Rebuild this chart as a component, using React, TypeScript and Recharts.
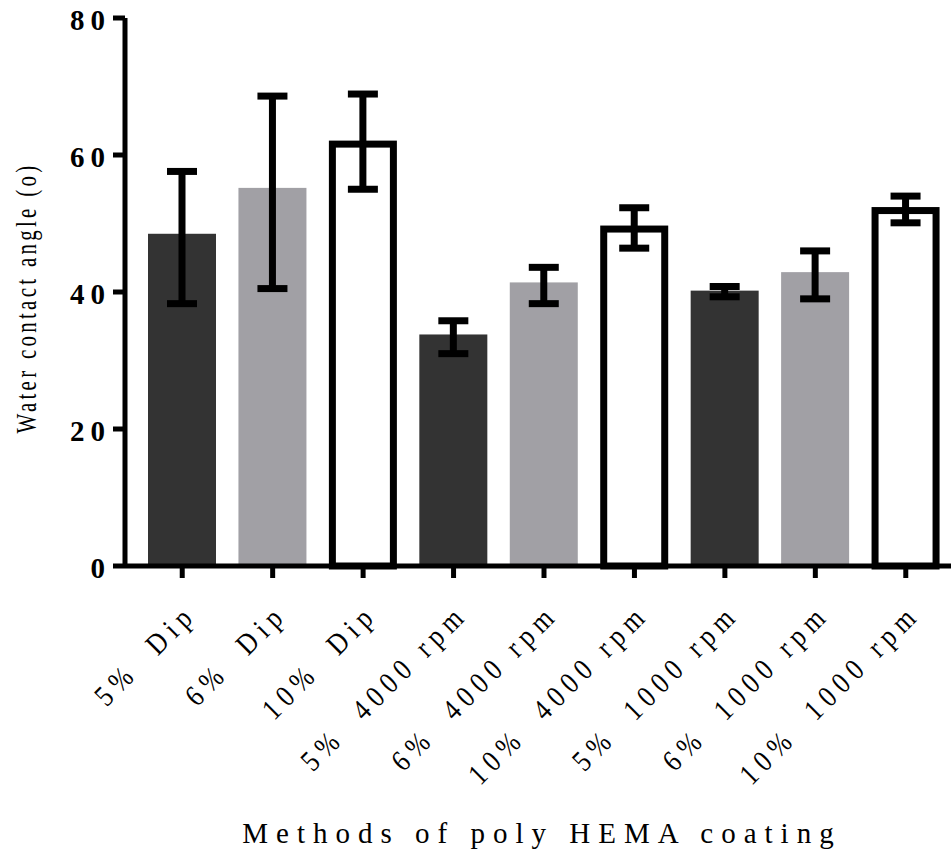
import { BarChart, Bar, XAxis, YAxis, ErrorBar, Label } from 'recharts';

const categories = [
  '5%  Dip', '6%  Dip', '10%  Dip',
  '5%  4000 rpm', '6%  4000 rpm', '10%  4000 rpm',
  '5%  1000 rpm', '6%  1000 rpm', '10%  1000 rpm',
];
const angles = [48.5, 55.2, 62.1, 33.8, 41.4, 49.7, 40.2, 42.9, 52.4];
const errLow = [38.3, 40.5, 55.0, 31.0, 38.3, 46.4, 39.3, 39.0, 50.1];
const errHigh = [57.6, 68.6, 68.9, 35.8, 43.6, 52.3, 40.8, 46.0, 54.0];
const yTicks = [0, 20, 40, 60, 80];

const data = categories.map((name, i) => ({
  name,
  angle: angles[i],
  err: [angles[i] - errLow[i], errHigh[i] - angles[i]],
  kind: i % 3,
}));

const serif = '"Liberation Serif", "DejaVu Serif", serif';

function BarShape(props: any) {
  const { x, y, width, height, payload } = props;
  if (payload.kind === 2) {
    const sw = 7;
    return (
      <rect
        x={x + sw / 2}
        y={y + sw / 2}
        width={width - sw}
        height={height - sw / 2}
        fill="#fff"
        stroke="#000"
        strokeWidth={sw}
      />
    );
  }
  return <rect x={x} y={y} width={width} height={height} fill={payload.kind === 0 ? '#333333' : '#a1a0a5'} />;
}

function XTick(props: any) {
  const { x, y, payload } = props;
  const ax = x + 16;
  const ay = y + 36;
  return (
    <g transform={`translate(${ax} ${ay}) rotate(-45) scale(0.85 1)`}>
      <text
        x={0}
        y={0}
        textAnchor="end"
        fontFamily={serif}
        fontSize={30}
        letterSpacing={7.5}
        fill="#000"
        style={{ whiteSpace: 'pre' }}
      >
        {payload.value}
      </text>
    </g>
  );
}

function YTick(props: any) {
  const { x, y, payload } = props;
  return (
    <text
      x={x}
      y={y + 12}
      textAnchor="end"
      fontFamily={serif}
      fontWeight="bold"
      fontSize={29}
      letterSpacing={6}
      fill="#000"
    >
      {payload.value}
    </text>
  );
}

function XTitle(props: any) {
  const { viewBox } = props;
  const cx = viewBox.x + viewBox.width / 2 + 4;
  return (
    <text
      x={cx}
      y={843}
      textAnchor="middle"
      fontFamily={serif}
      fontSize={29}
      letterSpacing={8}
      fill="#000"
    >
      Methods of poly HEMA coating
    </text>
  );
}

function YTitle() {
  return (
    <g transform="translate(36 298) rotate(-90) scale(0.72 1)">
      <text
        x={0}
        y={0}
        textAnchor="middle"
        fontFamily={serif}
        fontSize={29}
        letterSpacing={4.6}
        fill="#000"
      >
        Water contact angle (o)
      </text>
    </g>
  );
}

export default function App() {
  return (
    <div style={{ position: 'absolute', left: 0, top: 0, width: 951, height: 862, background: '#fff' }}>
      <BarChart
        width={951}
        height={862}
        data={data}
        margin={{ top: 18, right: 0, left: 65, bottom: 0 }}
      >
        <XAxis
          dataKey="name"
          interval={0}
          height={296}
          padding={{ left: 12, right: 0 }}
          tick={<XTick />}
          tickSize={12}
          axisLine={{ stroke: '#000', strokeWidth: 5 }}
          tickLine={{ stroke: '#000', strokeWidth: 5 }}
        >
          <Label content={<XTitle />} />
        </XAxis>
        <YAxis
          width={60}
          domain={[0, 80]}
          ticks={yTicks}
          tick={<YTick />}
          tickSize={12}
          axisLine={{ stroke: '#000', strokeWidth: 5 }}
          tickLine={{ stroke: '#000', strokeWidth: 5 }}
        >
          <Label content={<YTitle />} />
        </YAxis>
        <Bar dataKey="angle" barSize={68} shape={<BarShape />} isAnimationActive={false}>
          <ErrorBar dataKey="err" direction="y" width={15} strokeWidth={7} stroke="#000" />
        </Bar>
      </BarChart>
    </div>
  );
}
